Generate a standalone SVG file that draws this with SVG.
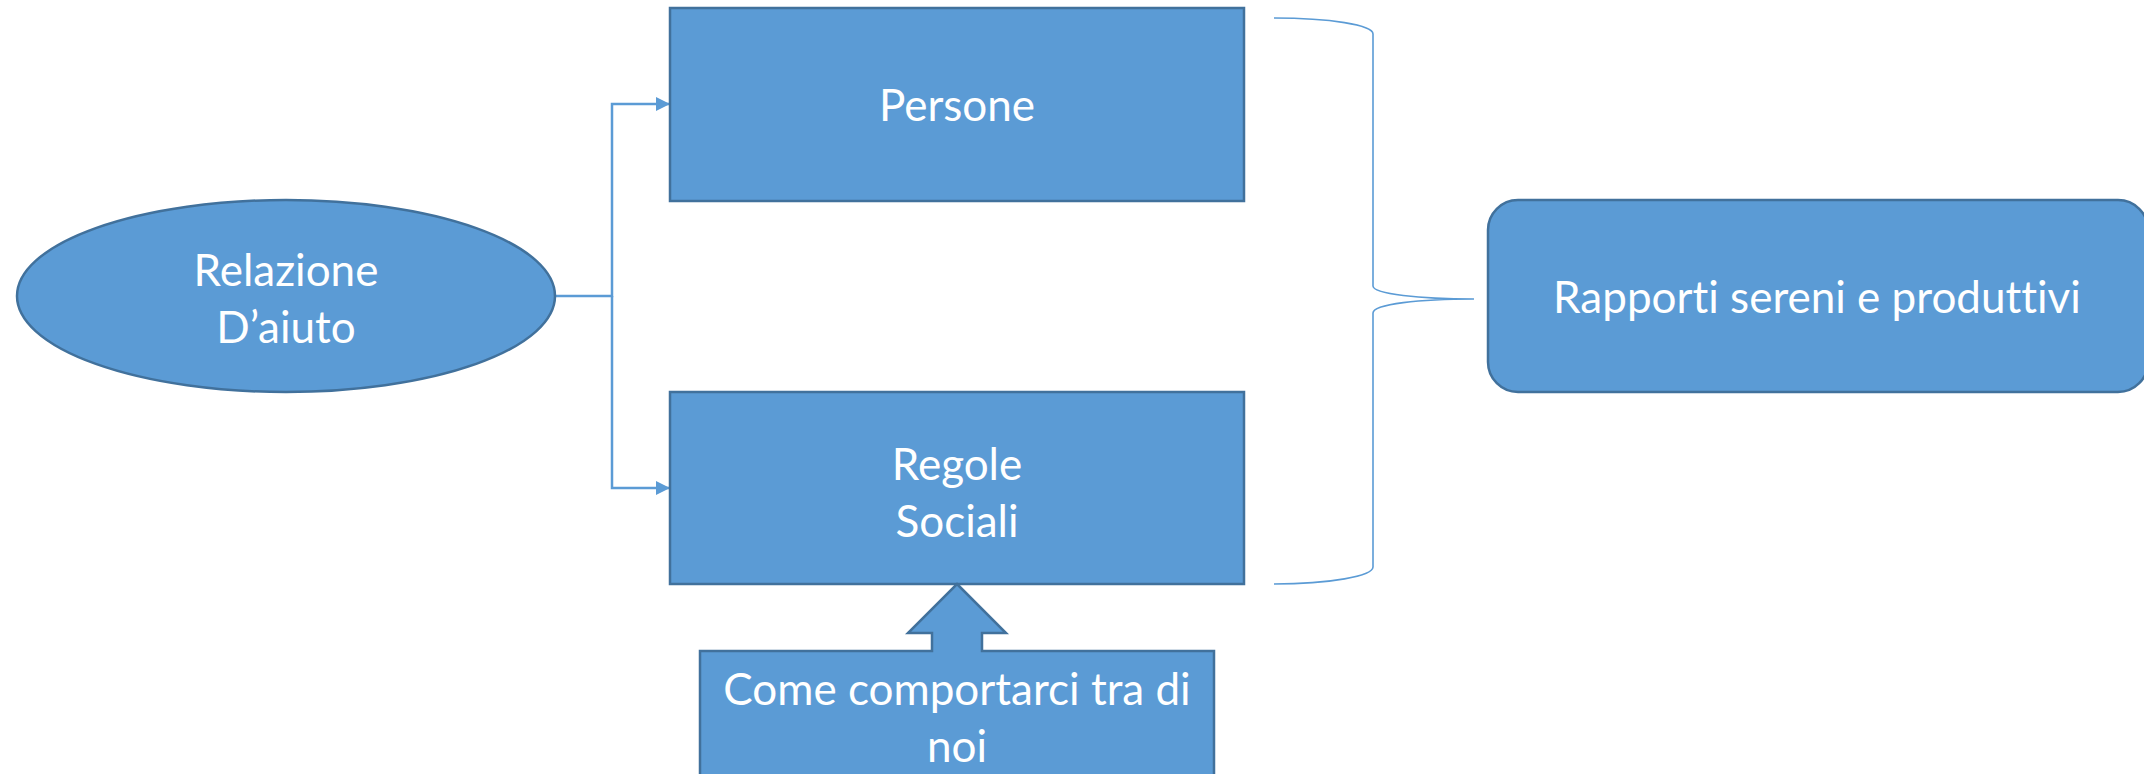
<svg xmlns="http://www.w3.org/2000/svg" width="2144" height="774" viewBox="0 0 2144 774">
<defs>
<style>
.node{fill:#5B9BD5;stroke:#41719C;stroke-width:2.5}
.lbl{fill:#ffffff;font-family:Lato,"Open Sans","Liberation Sans",sans-serif;font-size:44px;text-anchor:middle;font-variant-ligatures:none}
.conn{fill:none;stroke:#5B9BD5;stroke-width:2.5}
.brace{fill:none;stroke:#5B9BD5;stroke-width:1.6}
</style>
<marker id="arr" markerWidth="14" markerHeight="14" refX="13" refY="7" orient="auto" markerUnits="userSpaceOnUse" viewBox="0 0 14 14">
<path d="M0,0 L14,7 L0,14 z" fill="#5B9BD5"/>
</marker>
</defs>
<rect width="2144" height="774" fill="#ffffff"/>
<g id="connectors">
<path class="conn" d="M555,296 H612 V104 H669" marker-end="url(#arr)"/>
<path class="conn" d="M612,296 V488 H669" marker-end="url(#arr)"/>
<path class="brace" d="M1274,18 C1330,18 1373,25 1373,34 V286 C1373,294 1420,299 1474,299 M1474,299 C1420,299 1373,304 1373,313 V567 C1373,576 1330,584 1274,584"/>
</g>
<g id="node-relazione">
<ellipse class="node" cx="286" cy="296" rx="269" ry="96"/>
<text class="lbl" x="286" y="286">Relazione</text>
<text class="lbl" x="286" y="343">D’aiuto</text>
</g>
<g id="node-persone">
<rect class="node" x="670" y="8" width="574" height="193"/>
<text class="lbl" x="957" y="121">Persone</text>
</g>
<g id="node-regole">
<rect class="node" x="670" y="392" width="574" height="192"/>
<text class="lbl" x="957" y="480">Regole</text>
<text class="lbl" x="957" y="537">Sociali</text>
</g>
<g id="node-rapporti">
<rect class="node" x="1488" y="200" width="660" height="192" rx="30" ry="30"/>
<text class="lbl" x="1817" y="313">Rapporti sereni e produttivi</text>
</g>
<g id="node-come">
<path class="node" d="M957,584 L1006,633 H982 V651 H1214 V780 H700 V651 H932 V633 H908 Z"/>
<text class="lbl" x="957" y="705">Come comportarci tra di</text>
<text class="lbl" x="957" y="762">noi</text>
</g>
</svg>
